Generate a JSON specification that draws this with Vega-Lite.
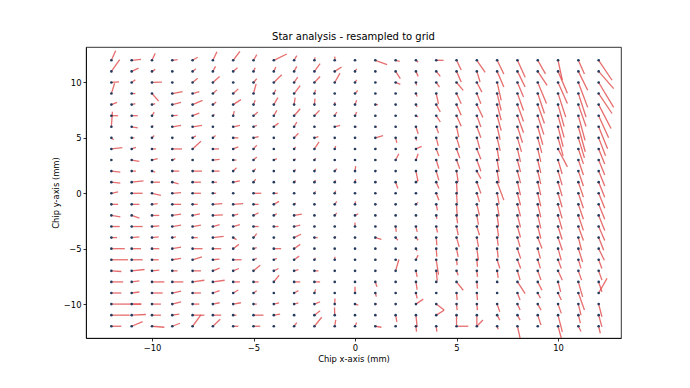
{
"$schema": "https://vega.github.io/schema/vega-lite/v6.json",
"width": 535, "height": 291,
"autosize": {"type": "none"},
"padding": {"left": 86, "top": 47, "right": 69, "bottom": 50},
"background": "white",
"title": {"text": "Star analysis - resampled to grid", "fontSize": 10, "font": "DejaVu Sans", "fontWeight": "normal", "color": "black", "offset": 5, "anchor": "middle"},
"config": {
  "view": {"stroke": "black", "strokeWidth": 0.8},
  "axis": {"grid": false, "domainColor": "black", "domainWidth": 0.8, "tickColor": "black", "tickWidth": 0.8, "tickSize": 3, "labelFont": "DejaVu Sans", "labelFontSize": 8.4, "labelColor": "black", "labelPadding": 2, "titleFont": "DejaVu Sans", "titleFontSize": 8.4, "titleFontWeight": "normal", "titleColor": "black", "titlePadding": 3}
},
"data": {"values": [
{"x":-12,"y":12,"xe":-11.79,"ye":12.87},{"x":-12,"y":11,"xe":-11.59,"ye":12.05},{"x":-12,"y":10,"xe":-11.62,"ye":10.06},{"x":-12,"y":9,"xe":-11.84,"ye":9.93},{"x":-12,"y":8,"xe":-11.72,"ye":8.21},{"x":-12,"y":7,"xe":-11.67,"ye":7},{"x":-12,"y":6,"xe":-11.95,"ye":7.35},{"x":-12,"y":5,"xe":-11.89,"ye":4.82},{"x":-12,"y":4,"xe":-11.46,"ye":4.12},{"x":-12,"y":3,"xe":-11.98,"ye":3},{"x":-12,"y":2,"xe":-11.56,"ye":1.91},{"x":-12,"y":1,"xe":-11.56,"ye":0.91},{"x":-12,"y":0,"xe":-11.67,"ye":0.12},{"x":-12,"y":-1,"xe":-11.67,"ye":-1},{"x":-12,"y":-2,"xe":-11.56,"ye":-2.12},{"x":-12,"y":-3,"xe":-11.59,"ye":-3},{"x":-12,"y":-4,"xe":-11.72,"ye":-4},{"x":-12,"y":-5,"xe":-11.34,"ye":-5},{"x":-12,"y":-6,"xe":-11.18,"ye":-6},{"x":-12,"y":-7,"xe":-11.51,"ye":-7.06},{"x":-12,"y":-8,"xe":-11.42,"ye":-8},{"x":-12,"y":-9,"xe":-11.51,"ye":-9},{"x":-12,"y":-10,"xe":-10.52,"ye":-10},{"x":-12,"y":-11,"xe":-11.1,"ye":-11},{"x":-12,"y":-12,"xe":-11.51,"ye":-12},
{"x":-11,"y":12,"xe":-10.54,"ye":12.09},{"x":-11,"y":11,"xe":-10.66,"ye":11.3},{"x":-11,"y":10,"xe":-10.82,"ye":10.24},{"x":-11,"y":9,"xe":-10.82,"ye":9},{"x":-11,"y":8,"xe":-10.82,"ye":8.09},{"x":-11,"y":7,"xe":-10.7,"ye":7},{"x":-11,"y":6,"xe":-10.7,"ye":5.91},{"x":-11,"y":5,"xe":-10.87,"ye":5},{"x":-11,"y":4,"xe":-10.79,"ye":4.15},{"x":-11,"y":3,"xe":-10.62,"ye":2.88},{"x":-11,"y":2,"xe":-10.79,"ye":2},{"x":-11,"y":1,"xe":-10.42,"ye":1.12},{"x":-11,"y":0,"xe":-10.46,"ye":0},{"x":-11,"y":-1,"xe":-10.62,"ye":-1},{"x":-11,"y":-2,"xe":-10.62,"ye":-2.24},{"x":-11,"y":-3,"xe":-10.46,"ye":-3},{"x":-11,"y":-4,"xe":-10.62,"ye":-3.94},{"x":-11,"y":-5,"xe":-10.54,"ye":-5},{"x":-11,"y":-6,"xe":-10.46,"ye":-6},{"x":-11,"y":-7,"xe":-10.37,"ye":-6.88},{"x":-11,"y":-8,"xe":-10.62,"ye":-7.91},{"x":-11,"y":-9,"xe":-10.62,"ye":-8.91},{"x":-11,"y":-10,"xe":-10.54,"ye":-10},{"x":-11,"y":-11,"xe":-10.3,"ye":-10.94},{"x":-11,"y":-12,"xe":-10.46,"ye":-11.58},
{"x":-10,"y":12,"xe":-9.84,"ye":12.63},{"x":-10,"y":11,"xe":-9.84,"ye":11.18},{"x":-10,"y":10,"xe":-9.51,"ye":10.03},{"x":-10,"y":9,"xe":-9.67,"ye":8.31},{"x":-10,"y":8,"xe":-9.84,"ye":8.09},{"x":-10,"y":7,"xe":-9.89,"ye":7.33},{"x":-10,"y":6,"xe":-9.94,"ye":6.12},{"x":-10,"y":5,"xe":-9.89,"ye":5.21},{"x":-10,"y":4,"xe":-9.8,"ye":4},{"x":-10,"y":3,"xe":-9.72,"ye":3.12},{"x":-10,"y":2,"xe":-9.84,"ye":1.91},{"x":-10,"y":1,"xe":-9.61,"ye":1},{"x":-10,"y":0,"xe":-9.56,"ye":-0.18},{"x":-10,"y":-1,"xe":-9.72,"ye":-0.94},{"x":-10,"y":-2,"xe":-9.64,"ye":-2},{"x":-10,"y":-3,"xe":-9.64,"ye":-2.94},{"x":-10,"y":-4,"xe":-9.67,"ye":-3.94},{"x":-10,"y":-5,"xe":-9.64,"ye":-5},{"x":-10,"y":-6,"xe":-9.67,"ye":-6},{"x":-10,"y":-7,"xe":-9.64,"ye":-6.94},{"x":-10,"y":-8,"xe":-9.39,"ye":-8},{"x":-10,"y":-9,"xe":-9.47,"ye":-9},{"x":-10,"y":-10,"xe":-9.56,"ye":-10},{"x":-10,"y":-11,"xe":-9.56,"ye":-11},{"x":-10,"y":-12,"xe":-9.39,"ye":-12.09},
{"x":-9,"y":12,"xe":-8.74,"ye":12.06},{"x":-9,"y":11,"xe":-8.95,"ye":11},{"x":-9,"y":10,"xe":-8.95,"ye":10},{"x":-9,"y":9,"xe":-8.49,"ye":9.18},{"x":-9,"y":8,"xe":-8.57,"ye":8.21},{"x":-9,"y":7,"xe":-8.74,"ye":7.03},{"x":-9,"y":6,"xe":-8.57,"ye":6.12},{"x":-9,"y":5,"xe":-8.95,"ye":5},{"x":-9,"y":4,"xe":-8.52,"ye":4},{"x":-9,"y":3,"xe":-8.85,"ye":3.12},{"x":-9,"y":2,"xe":-8.66,"ye":2},{"x":-9,"y":1,"xe":-8.69,"ye":0.85},{"x":-9,"y":0,"xe":-8.57,"ye":0.06},{"x":-9,"y":-1,"xe":-8.57,"ye":-1},{"x":-9,"y":-2,"xe":-8.57,"ye":-1.88},{"x":-9,"y":-3,"xe":-8.57,"ye":-2.88},{"x":-9,"y":-4,"xe":-8.82,"ye":-3.94},{"x":-9,"y":-5,"xe":-8.57,"ye":-4.85},{"x":-9,"y":-6,"xe":-8.57,"ye":-5.88},{"x":-9,"y":-7,"xe":-8.74,"ye":-7},{"x":-9,"y":-8,"xe":-8.46,"ye":-8},{"x":-9,"y":-9,"xe":-8.57,"ye":-8.82},{"x":-9,"y":-10,"xe":-8.57,"ye":-9.79},{"x":-9,"y":-11,"xe":-8.66,"ye":-10.91},{"x":-9,"y":-12,"xe":-8.62,"ye":-11.73},
{"x":-8,"y":12,"xe":-7.75,"ye":12.27},{"x":-8,"y":11,"xe":-7.84,"ye":11.24},{"x":-8,"y":10,"xe":-7.75,"ye":10.39},{"x":-8,"y":9,"xe":-7.67,"ye":9.18},{"x":-8,"y":8,"xe":-7.51,"ye":8.39},{"x":-8,"y":7,"xe":-7.67,"ye":7.24},{"x":-8,"y":6,"xe":-7.54,"ye":6.12},{"x":-8,"y":5,"xe":-7.84,"ye":5.18},{"x":-8,"y":4,"xe":-7.59,"ye":4.69},{"x":-8,"y":3,"xe":-7.95,"ye":3},{"x":-8,"y":2,"xe":-7.54,"ye":2},{"x":-8,"y":1,"xe":-7.59,"ye":1},{"x":-8,"y":0,"xe":-7.59,"ye":0},{"x":-8,"y":-1,"xe":-7.75,"ye":-1},{"x":-8,"y":-2,"xe":-7.64,"ye":-1.85},{"x":-8,"y":-3,"xe":-7.59,"ye":-2.88},{"x":-8,"y":-4,"xe":-7.75,"ye":-4},{"x":-8,"y":-5,"xe":-7.51,"ye":-5},{"x":-8,"y":-6,"xe":-7.54,"ye":-5.73},{"x":-8,"y":-7,"xe":-7.59,"ye":-7},{"x":-8,"y":-8,"xe":-7.42,"ye":-7.85},{"x":-8,"y":-9,"xe":-7.59,"ye":-9},{"x":-8,"y":-10,"xe":-7.67,"ye":-10},{"x":-8,"y":-11,"xe":-7.42,"ye":-11},{"x":-8,"y":-12,"xe":-7.59,"ye":-10.98},
{"x":-7,"y":12,"xe":-6.8,"ye":12.78},{"x":-7,"y":11,"xe":-6.87,"ye":11.45},{"x":-7,"y":10,"xe":-6.67,"ye":10.54},{"x":-7,"y":9,"xe":-6.8,"ye":9.33},{"x":-7,"y":8,"xe":-6.84,"ye":8.24},{"x":-7,"y":7,"xe":-6.92,"ye":7.12},{"x":-7,"y":6,"xe":-6.95,"ye":6},{"x":-7,"y":5,"xe":-6.87,"ye":5.21},{"x":-7,"y":4,"xe":-6.7,"ye":4},{"x":-7,"y":3,"xe":-6.67,"ye":3.06},{"x":-7,"y":2,"xe":-6.67,"ye":2},{"x":-7,"y":1,"xe":-6.8,"ye":1},{"x":-7,"y":0,"xe":-6.84,"ye":0},{"x":-7,"y":-1,"xe":-6.54,"ye":-0.94},{"x":-7,"y":-2,"xe":-6.51,"ye":-1.94},{"x":-7,"y":-3,"xe":-6.67,"ye":-2.82},{"x":-7,"y":-4,"xe":-6.47,"ye":-3.88},{"x":-7,"y":-5,"xe":-6.59,"ye":-5},{"x":-7,"y":-6,"xe":-6.67,"ye":-5.94},{"x":-7,"y":-7,"xe":-6.67,"ye":-6.76},{"x":-7,"y":-8,"xe":-6.42,"ye":-7.85},{"x":-7,"y":-9,"xe":-6.67,"ye":-8.79},{"x":-7,"y":-10,"xe":-6.67,"ye":-9.88},{"x":-7,"y":-11,"xe":-6.59,"ye":-11},{"x":-7,"y":-12,"xe":-6.64,"ye":-11.37},
{"x":-6,"y":12,"xe":-5.67,"ye":12.81},{"x":-6,"y":11,"xe":-5.79,"ye":11.33},{"x":-6,"y":10,"xe":-5.95,"ye":10},{"x":-6,"y":9,"xe":-5.75,"ye":9.42},{"x":-6,"y":8,"xe":-5.62,"ye":8.45},{"x":-6,"y":7,"xe":-5.95,"ye":7.42},{"x":-6,"y":6,"xe":-5.67,"ye":6.12},{"x":-6,"y":5,"xe":-5.75,"ye":5},{"x":-6,"y":4,"xe":-5.75,"ye":4.18},{"x":-6,"y":3,"xe":-5.84,"ye":3},{"x":-6,"y":2,"xe":-5.84,"ye":2.3},{"x":-6,"y":1,"xe":-5.67,"ye":1.12},{"x":-6,"y":0,"xe":-5.95,"ye":0},{"x":-6,"y":-1,"xe":-5.51,"ye":-0.94},{"x":-6,"y":-2,"xe":-5.75,"ye":-1.88},{"x":-6,"y":-3,"xe":-5.67,"ye":-2.82},{"x":-6,"y":-4,"xe":-5.84,"ye":-4.18},{"x":-6,"y":-5,"xe":-5.72,"ye":-4.61},{"x":-6,"y":-6,"xe":-5.59,"ye":-6},{"x":-6,"y":-7,"xe":-5.72,"ye":-6.79},{"x":-6,"y":-8,"xe":-5.67,"ye":-8},{"x":-6,"y":-9,"xe":-5.75,"ye":-8.73},{"x":-6,"y":-10,"xe":-5.62,"ye":-9.88},{"x":-6,"y":-11,"xe":-5.84,"ye":-11},{"x":-6,"y":-12,"xe":-5.75,"ye":-12},
{"x":-5,"y":12,"xe":-4.84,"ye":12.51},{"x":-5,"y":11,"xe":-4.92,"ye":11.33},{"x":-5,"y":10,"xe":-4.84,"ye":10.33},{"x":-5,"y":9,"xe":-4.87,"ye":9.87},{"x":-5,"y":8,"xe":-4.92,"ye":8.39},{"x":-5,"y":7,"xe":-4.79,"ye":7.33},{"x":-5,"y":6,"xe":-4.84,"ye":6.12},{"x":-5,"y":5,"xe":-4.75,"ye":5.12},{"x":-5,"y":4,"xe":-4.84,"ye":4.33},{"x":-5,"y":3,"xe":-4.84,"ye":3.27},{"x":-5,"y":2,"xe":-4.89,"ye":2.21},{"x":-5,"y":1,"xe":-4.89,"ye":1.27},{"x":-5,"y":0,"xe":-4.62,"ye":0},{"x":-5,"y":-1,"xe":-4.75,"ye":-1},{"x":-5,"y":-2,"xe":-4.75,"ye":-1.76},{"x":-5,"y":-3,"xe":-4.75,"ye":-3},{"x":-5,"y":-4,"xe":-4.84,"ye":-3.64},{"x":-5,"y":-5,"xe":-4.84,"ye":-4.91},{"x":-5,"y":-6,"xe":-4.84,"ye":-5.88},{"x":-5,"y":-7,"xe":-4.67,"ye":-6.49},{"x":-5,"y":-8,"xe":-4.75,"ye":-8},{"x":-5,"y":-9,"xe":-4.84,"ye":-8.79},{"x":-5,"y":-10,"xe":-4.84,"ye":-10},{"x":-5,"y":-11,"xe":-4.51,"ye":-11},{"x":-5,"y":-12,"xe":-4.67,"ye":-12},
{"x":-4,"y":12,"xe":-3.36,"ye":12.57},{"x":-4,"y":11,"xe":-3.9,"ye":11.39},{"x":-4,"y":10,"xe":-3.61,"ye":10.69},{"x":-4,"y":9,"xe":-3.9,"ye":9.33},{"x":-4,"y":8,"xe":-3.8,"ye":8.63},{"x":-4,"y":7,"xe":-3.85,"ye":7.48},{"x":-4,"y":6,"xe":-3.77,"ye":6.33},{"x":-4,"y":5,"xe":-3.95,"ye":5},{"x":-4,"y":4,"xe":-3.95,"ye":4},{"x":-4,"y":3,"xe":-3.85,"ye":3.12},{"x":-4,"y":2,"xe":-3.95,"ye":2},{"x":-4,"y":1,"xe":-3.95,"ye":1},{"x":-4,"y":0,"xe":-3.8,"ye":0},{"x":-4,"y":-1,"xe":-3.74,"ye":-0.73},{"x":-4,"y":-2,"xe":-3.85,"ye":-1.85},{"x":-4,"y":-3,"xe":-3.77,"ye":-3},{"x":-4,"y":-4,"xe":-3.95,"ye":-4},{"x":-4,"y":-5,"xe":-3.64,"ye":-5},{"x":-4,"y":-6,"xe":-3.85,"ye":-5.88},{"x":-4,"y":-7,"xe":-3.77,"ye":-6.79},{"x":-4,"y":-8,"xe":-3.74,"ye":-7.4},{"x":-4,"y":-9,"xe":-3.95,"ye":-9},{"x":-4,"y":-10,"xe":-3.74,"ye":-9.88},{"x":-4,"y":-11,"xe":-3.69,"ye":-10.91},{"x":-4,"y":-12,"xe":-3.95,"ye":-12},
{"x":-3,"y":12,"xe":-2.87,"ye":12.42},{"x":-3,"y":11,"xe":-2.87,"ye":11.45},{"x":-3,"y":10,"xe":-2.82,"ye":10.48},{"x":-3,"y":9,"xe":-2.7,"ye":9.72},{"x":-3,"y":8,"xe":-2.95,"ye":8.63},{"x":-3,"y":7,"xe":-2.7,"ye":7.63},{"x":-3,"y":6,"xe":-2.87,"ye":6.42},{"x":-3,"y":5,"xe":-2.79,"ye":5.42},{"x":-3,"y":4,"xe":-2.92,"ye":4.18},{"x":-3,"y":3,"xe":-2.92,"ye":3.12},{"x":-3,"y":2,"xe":-2.92,"ye":2.15},{"x":-3,"y":1,"xe":-2.92,"ye":1.15},{"x":-3,"y":0,"xe":-2.95,"ye":0},{"x":-3,"y":-1,"xe":-2.92,"ye":-0.88},{"x":-3,"y":-2,"xe":-2.62,"ye":-1.88},{"x":-3,"y":-3,"xe":-2.7,"ye":-2.88},{"x":-3,"y":-4,"xe":-2.66,"ye":-3.7},{"x":-3,"y":-5,"xe":-2.7,"ye":-4.61},{"x":-3,"y":-6,"xe":-2.75,"ye":-5.67},{"x":-3,"y":-7,"xe":-2.79,"ye":-6.88},{"x":-3,"y":-8,"xe":-2.7,"ye":-8},{"x":-3,"y":-9,"xe":-2.79,"ye":-8.79},{"x":-3,"y":-10,"xe":-2.79,"ye":-9.88},{"x":-3,"y":-11,"xe":-2.95,"ye":-11},{"x":-3,"y":-12,"xe":-2.87,"ye":-11.67},
{"x":-2,"y":12,"xe":-1.97,"ye":12.27},{"x":-2,"y":11,"xe":-1.72,"ye":11.69},{"x":-2,"y":10,"xe":-1.72,"ye":10.54},{"x":-2,"y":9,"xe":-1.94,"ye":9.33},{"x":-2,"y":8,"xe":-1.97,"ye":8.54},{"x":-2,"y":7,"xe":-1.75,"ye":7.48},{"x":-2,"y":6,"xe":-1.95,"ye":6},{"x":-2,"y":5,"xe":-1.8,"ye":5.12},{"x":-2,"y":4,"xe":-1.77,"ye":4.63},{"x":-2,"y":3,"xe":-1.94,"ye":3.18},{"x":-2,"y":2,"xe":-1.94,"ye":2.21},{"x":-2,"y":1,"xe":-1.94,"ye":1.18},{"x":-2,"y":0,"xe":-1.94,"ye":0.18},{"x":-2,"y":-1,"xe":-1.95,"ye":-1},{"x":-2,"y":-2,"xe":-1.95,"ye":-2},{"x":-2,"y":-3,"xe":-1.95,"ye":-3},{"x":-2,"y":-4,"xe":-1.84,"ye":-4},{"x":-2,"y":-5,"xe":-1.95,"ye":-5},{"x":-2,"y":-6,"xe":-1.95,"ye":-5.82},{"x":-2,"y":-7,"xe":-1.8,"ye":-7},{"x":-2,"y":-8,"xe":-1.72,"ye":-8},{"x":-2,"y":-9,"xe":-1.94,"ye":-8.67},{"x":-2,"y":-10,"xe":-1.72,"ye":-9.79},{"x":-2,"y":-11,"xe":-1.72,"ye":-10.61},{"x":-2,"y":-12,"xe":-1.64,"ye":-11.19},
{"x":-1,"y":12,"xe":-0.99,"ye":12.33},{"x":-1,"y":11,"xe":-0.66,"ye":11.39},{"x":-1,"y":10,"xe":-0.74,"ye":10.84},{"x":-1,"y":9,"xe":-0.95,"ye":9},{"x":-1,"y":8,"xe":-0.99,"ye":8.24},{"x":-1,"y":7,"xe":-0.9,"ye":7.33},{"x":-1,"y":6,"xe":-0.74,"ye":6.12},{"x":-1,"y":5,"xe":-0.95,"ye":5},{"x":-1,"y":4,"xe":-0.95,"ye":4.27},{"x":-1,"y":3,"xe":-0.95,"ye":3},{"x":-1,"y":2,"xe":-0.9,"ye":2.21},{"x":-1,"y":1,"xe":-0.95,"ye":1.18},{"x":-1,"y":0,"xe":-0.95,"ye":0.24},{"x":-1,"y":-1,"xe":-0.9,"ye":-0.73},{"x":-1,"y":-2,"xe":-0.9,"ye":-1.76},{"x":-1,"y":-3,"xe":-0.95,"ye":-3},{"x":-1,"y":-4,"xe":-0.95,"ye":-3.88},{"x":-1,"y":-5,"xe":-0.95,"ye":-5},{"x":-1,"y":-6,"xe":-0.99,"ye":-5.73},{"x":-1,"y":-7,"xe":-0.95,"ye":-7},{"x":-1,"y":-8,"xe":-0.95,"ye":-8},{"x":-1,"y":-9,"xe":-0.95,"ye":-9},{"x":-1,"y":-10,"xe":-0.99,"ye":-9.49},{"x":-1,"y":-11,"xe":-1.01,"ye":-10.31},{"x":-1,"y":-12,"xe":-0.95,"ye":-11.43},
{"x":0,"y":12,"xe":0.05,"ye":12},{"x":0,"y":11,"xe":0.08,"ye":11.24},{"x":0,"y":10,"xe":0.08,"ye":10.24},{"x":0,"y":9,"xe":0.13,"ye":9.27},{"x":0,"y":8,"xe":0.08,"ye":8.39},{"x":0,"y":7,"xe":0.08,"ye":7.33},{"x":0,"y":6,"xe":0.08,"ye":6},{"x":0,"y":5,"xe":0.05,"ye":5},{"x":0,"y":4,"xe":0.05,"ye":4},{"x":0,"y":3,"xe":0.05,"ye":3},{"x":0,"y":2,"xe":0.03,"ye":2.45},{"x":0,"y":1,"xe":0.03,"ye":1.27},{"x":0,"y":0,"xe":0.05,"ye":0},{"x":0,"y":-1,"xe":0.03,"ye":-0.73},{"x":0,"y":-2,"xe":0.16,"ye":-1.85},{"x":0,"y":-3,"xe":0,"ye":-2.64},{"x":0,"y":-4,"xe":0.05,"ye":-4},{"x":0,"y":-5,"xe":0.05,"ye":-5},{"x":0,"y":-6,"xe":0.05,"ye":-6},{"x":0,"y":-7,"xe":0.05,"ye":-7},{"x":0,"y":-8,"xe":0.05,"ye":-8},{"x":0,"y":-9,"xe":0,"ye":-8.43},{"x":0,"y":-10,"xe":0.16,"ye":-10.09},{"x":0,"y":-11,"xe":0.05,"ye":-11},{"x":0,"y":-12,"xe":0.08,"ye":-11.67},
{"x":1,"y":12,"xe":1.58,"ye":11.61},{"x":1,"y":11,"xe":1.05,"ye":11},{"x":1,"y":10,"xe":1.05,"ye":10},{"x":1,"y":9,"xe":1.05,"ye":9},{"x":1,"y":8,"xe":1.13,"ye":8},{"x":1,"y":7,"xe":1.05,"ye":7},{"x":1,"y":6,"xe":1.08,"ye":6},{"x":1,"y":5,"xe":1.38,"ye":5.21},{"x":1,"y":4,"xe":1.05,"ye":4.09},{"x":1,"y":3,"xe":1.05,"ye":3},{"x":1,"y":2,"xe":1.05,"ye":2.09},{"x":1,"y":1,"xe":1.05,"ye":1.09},{"x":1,"y":0,"xe":1.05,"ye":0},{"x":1,"y":-1,"xe":1.05,"ye":-1},{"x":1,"y":-2,"xe":1.05,"ye":-2},{"x":1,"y":-3,"xe":1.05,"ye":-3},{"x":1,"y":-4,"xe":1.3,"ye":-4.15},{"x":1,"y":-5,"xe":1.05,"ye":-5},{"x":1,"y":-6,"xe":1.05,"ye":-6},{"x":1,"y":-7,"xe":1.05,"ye":-7},{"x":1,"y":-8,"xe":1.08,"ye":-8.45},{"x":1,"y":-9,"xe":1.05,"ye":-9.33},{"x":1,"y":-10,"xe":1.08,"ye":-10},{"x":1,"y":-11,"xe":1.05,"ye":-11},{"x":1,"y":-12,"xe":1.3,"ye":-12.09},
{"x":2,"y":12,"xe":2.2,"ye":11.91},{"x":2,"y":11,"xe":2.23,"ye":10.34},{"x":2,"y":10,"xe":2.23,"ye":9.82},{"x":2,"y":9,"xe":2.05,"ye":9},{"x":2,"y":8,"xe":2.05,"ye":8},{"x":2,"y":7,"xe":2.05,"ye":7},{"x":2,"y":6,"xe":2.05,"ye":6},{"x":2,"y":5,"xe":2.06,"ye":4.55},{"x":2,"y":4,"xe":2.05,"ye":4},{"x":2,"y":3,"xe":2.16,"ye":3.57},{"x":2,"y":2,"xe":2.05,"ye":2},{"x":2,"y":1,"xe":2.11,"ye":0.43},{"x":2,"y":0,"xe":2.05,"ye":0},{"x":2,"y":-1,"xe":2.05,"ye":-1},{"x":2,"y":-2,"xe":2.05,"ye":-2},{"x":2,"y":-3,"xe":2.03,"ye":-3.48},{"x":2,"y":-4,"xe":2.11,"ye":-4.24},{"x":2,"y":-5,"xe":2.05,"ye":-5},{"x":2,"y":-6,"xe":2.05,"ye":-6},{"x":2,"y":-7,"xe":2.16,"ye":-5.98},{"x":2,"y":-8,"xe":2.05,"ye":-8},{"x":2,"y":-9,"xe":2.05,"ye":-9},{"x":2,"y":-10,"xe":2.05,"ye":-10},{"x":2,"y":-11,"xe":2.06,"ye":-11.6},{"x":2,"y":-12,"xe":2.05,"ye":-12},
{"x":3,"y":12,"xe":3.11,"ye":11.82},{"x":3,"y":11,"xe":3.11,"ye":10.55},{"x":3,"y":10,"xe":3.03,"ye":9.73},{"x":3,"y":9,"xe":3.06,"ye":8.73},{"x":3,"y":8,"xe":3.06,"ye":7.79},{"x":3,"y":7,"xe":3.11,"ye":6.88},{"x":3,"y":6,"xe":3.11,"ye":5.37},{"x":3,"y":5,"xe":3.03,"ye":4.76},{"x":3,"y":4,"xe":3.28,"ye":4.24},{"x":3,"y":3,"xe":3.11,"ye":3.57},{"x":3,"y":2,"xe":3.1,"ye":1.1},{"x":3,"y":1,"xe":3.1,"ye":1.18},{"x":3,"y":0,"xe":3.05,"ye":0},{"x":3,"y":-1,"xe":3.1,"ye":-0.82},{"x":3,"y":-2,"xe":3.05,"ye":-2.05},{"x":3,"y":-3,"xe":3.06,"ye":-3.48},{"x":3,"y":-4,"xe":3.11,"ye":-4.24},{"x":3,"y":-5,"xe":3.06,"ye":-5.21},{"x":3,"y":-6,"xe":3.11,"ye":-5.58},{"x":3,"y":-7,"xe":3.06,"ye":-7.54},{"x":3,"y":-8,"xe":3.06,"ye":-8.69},{"x":3,"y":-9,"xe":3.06,"ye":-9.48},{"x":3,"y":-10,"xe":3.36,"ye":-9.55},{"x":3,"y":-11,"xe":3.06,"ye":-12.05},{"x":3,"y":-12,"xe":3.03,"ye":-12.48},
{"x":4,"y":12,"xe":4.36,"ye":12},{"x":4,"y":11,"xe":4.2,"ye":10.55},{"x":4,"y":10,"xe":4.16,"ye":9.58},{"x":4,"y":9,"xe":4.11,"ye":8.07},{"x":4,"y":8,"xe":4.2,"ye":7.34},{"x":4,"y":7,"xe":4.2,"ye":6.43},{"x":4,"y":6,"xe":4.11,"ye":5.43},{"x":4,"y":5,"xe":4.1,"ye":4.28},{"x":4,"y":4,"xe":4.13,"ye":3.37},{"x":4,"y":3,"xe":4.13,"ye":2.22},{"x":4,"y":2,"xe":4.13,"ye":1.16},{"x":4,"y":1,"xe":4.13,"ye":0.43},{"x":4,"y":0,"xe":4.13,"ye":-0.63},{"x":4,"y":-1,"xe":4.06,"ye":-1.54},{"x":4,"y":-2,"xe":4.03,"ye":-2.3},{"x":4,"y":-3,"xe":4.06,"ye":-3.54},{"x":4,"y":-4,"xe":4.03,"ye":-4.69},{"x":4,"y":-5,"xe":4.03,"ye":-5.72},{"x":4,"y":-6,"xe":4.11,"ye":-7.35},{"x":4,"y":-7,"xe":4.05,"ye":-7.9},{"x":4,"y":-8,"xe":4.03,"ye":-8.09},{"x":4,"y":-9,"xe":4.03,"ye":-9.05},{"x":4,"y":-10,"xe":4.39,"ye":-10.54},{"x":4,"y":-11,"xe":4.39,"ye":-10.55},{"x":4,"y":-12,"xe":4.03,"ye":-12.48},
{"x":5,"y":12,"xe":5.23,"ye":11.13},{"x":5,"y":11,"xe":5.23,"ye":10.04},{"x":5,"y":10,"xe":5.33,"ye":9.28},{"x":5,"y":9,"xe":5.23,"ye":8.07},{"x":5,"y":8,"xe":5.23,"ye":7.04},{"x":5,"y":7,"xe":5.23,"ye":6.04},{"x":5,"y":6,"xe":5.11,"ye":5.07},{"x":5,"y":5,"xe":5.15,"ye":4.1},{"x":5,"y":4,"xe":5.16,"ye":3.19},{"x":5,"y":3,"xe":5.16,"ye":2.22},{"x":5,"y":2,"xe":5.08,"ye":1.01},{"x":5,"y":1,"xe":5.03,"ye":-0.02},{"x":5,"y":0,"xe":5.03,"ye":-0.93},{"x":5,"y":-1,"xe":5.03,"ye":-1.99},{"x":5,"y":-2,"xe":5.05,"ye":-2.72},{"x":5,"y":-3,"xe":5.08,"ye":-3.78},{"x":5,"y":-4,"xe":5.13,"ye":-4.84},{"x":5,"y":-5,"xe":5.08,"ye":-5.75},{"x":5,"y":-6,"xe":5.03,"ye":-6.48},{"x":5,"y":-7,"xe":5.08,"ye":-7.39},{"x":5,"y":-8,"xe":5.33,"ye":-8.75},{"x":5,"y":-9,"xe":5.03,"ye":-9.63},{"x":5,"y":-10,"xe":5.03,"ye":-10.54},{"x":5,"y":-11,"xe":5,"ye":-11.9},{"x":5,"y":-12,"xe":5.58,"ye":-12},
{"x":6,"y":12,"xe":6.41,"ye":10.92},{"x":6,"y":11,"xe":6.16,"ye":10.04},{"x":6,"y":10,"xe":6.25,"ye":9.13},{"x":6,"y":9,"xe":6.2,"ye":8.07},{"x":6,"y":8,"xe":6.3,"ye":6.83},{"x":6,"y":7,"xe":6.2,"ye":5.98},{"x":6,"y":6,"xe":6.2,"ye":5.01},{"x":6,"y":5,"xe":6.15,"ye":4.01},{"x":6,"y":4,"xe":6.2,"ye":3.07},{"x":6,"y":3,"xe":6.2,"ye":1.98},{"x":6,"y":2,"xe":6.2,"ye":1.31},{"x":6,"y":1,"xe":6.2,"ye":-0.02},{"x":6,"y":0,"xe":6.13,"ye":-0.78},{"x":6,"y":-1,"xe":6.13,"ye":-1.99},{"x":6,"y":-2,"xe":6.08,"ye":-2.84},{"x":6,"y":-3,"xe":6.13,"ye":-3.78},{"x":6,"y":-4,"xe":6.08,"ye":-4.84},{"x":6,"y":-5,"xe":6.08,"ye":-6.05},{"x":6,"y":-6,"xe":6.03,"ye":-6.63},{"x":6,"y":-7,"xe":6.03,"ye":-7.54},{"x":6,"y":-8,"xe":6.03,"ye":-8.6},{"x":6,"y":-9,"xe":6.03,"ye":-9.63},{"x":6,"y":-10,"xe":6.03,"ye":-10.54},{"x":6,"y":-11,"xe":6,"ye":-11.9},{"x":6,"y":-12,"xe":6.3,"ye":-11.43},
{"x":7,"y":12,"xe":7.33,"ye":10.77},{"x":7,"y":11,"xe":7.33,"ye":9.59},{"x":7,"y":10,"xe":7.2,"ye":8.38},{"x":7,"y":9,"xe":7.2,"ye":7.47},{"x":7,"y":8,"xe":7.2,"ye":6.59},{"x":7,"y":7,"xe":7.2,"ye":5.65},{"x":7,"y":6,"xe":7.15,"ye":4.83},{"x":7,"y":5,"xe":7.15,"ye":3.83},{"x":7,"y":4,"xe":7.1,"ye":2.92},{"x":7,"y":3,"xe":7.1,"ye":1.92},{"x":7,"y":2,"xe":7.1,"ye":0.92},{"x":7,"y":1,"xe":7.33,"ye":-0.62},{"x":7,"y":0,"xe":7.1,"ye":-0.99},{"x":7,"y":-1,"xe":7.1,"ye":-2.08},{"x":7,"y":-2,"xe":7.07,"ye":-2.99},{"x":7,"y":-3,"xe":7.07,"ye":-3.9},{"x":7,"y":-4,"xe":7.05,"ye":-4.72},{"x":7,"y":-5,"xe":7.05,"ye":-5.81},{"x":7,"y":-6,"xe":7.13,"ye":-6.78},{"x":7,"y":-7,"xe":7.05,"ye":-7.63},{"x":7,"y":-8,"xe":7.05,"ye":-8.09},{"x":7,"y":-9,"xe":7.03,"ye":-9},{"x":7,"y":-10,"xe":7.13,"ye":-10.69},{"x":7,"y":-11,"xe":7.13,"ye":-11.45},{"x":7,"y":-12,"xe":7.05,"ye":-12.27},
{"x":8,"y":12,"xe":8.38,"ye":10.47},{"x":8,"y":11,"xe":8.38,"ye":9.59},{"x":8,"y":10,"xe":8.3,"ye":8.68},{"x":8,"y":9,"xe":8.3,"ye":7.47},{"x":8,"y":8,"xe":8.3,"ye":6.47},{"x":8,"y":7,"xe":8.3,"ye":5.47},{"x":8,"y":6,"xe":8.25,"ye":4.56},{"x":8,"y":5,"xe":8.2,"ye":3.74},{"x":8,"y":4,"xe":8.15,"ye":2.83},{"x":8,"y":3,"xe":8.15,"ye":1.92},{"x":8,"y":2,"xe":8.15,"ye":0.92},{"x":8,"y":1,"xe":8.15,"ye":-0.17},{"x":8,"y":0,"xe":8.15,"ye":-1.08},{"x":8,"y":-1,"xe":8.15,"ye":-2.08},{"x":8,"y":-2,"xe":8.15,"ye":-3.08},{"x":8,"y":-3,"xe":8.15,"ye":-3.99},{"x":8,"y":-4,"xe":8.13,"ye":-4.84},{"x":8,"y":-5,"xe":8.16,"ye":-5.9},{"x":8,"y":-6,"xe":8.16,"ye":-6.78},{"x":8,"y":-7,"xe":8.13,"ye":-7.84},{"x":8,"y":-8,"xe":8.38,"ye":-9.05},{"x":8,"y":-9,"xe":8.13,"ye":-9.63},{"x":8,"y":-10,"xe":8.13,"ye":-10.54},{"x":8,"y":-11,"xe":8.13,"ye":-11.45},{"x":8,"y":-12,"xe":8.13,"ye":-13.08},
{"x":9,"y":12,"xe":9.38,"ye":10.77},{"x":9,"y":11,"xe":9.46,"ye":9.74},{"x":9,"y":10,"xe":9.43,"ye":8.11},{"x":9,"y":9,"xe":9.33,"ye":7.2},{"x":9,"y":8,"xe":9.33,"ye":6.29},{"x":9,"y":7,"xe":9.3,"ye":5.29},{"x":9,"y":6,"xe":9.25,"ye":4.38},{"x":9,"y":5,"xe":9.2,"ye":3.65},{"x":9,"y":4,"xe":9.15,"ye":2.83},{"x":9,"y":3,"xe":9.15,"ye":1.83},{"x":9,"y":2,"xe":9.15,"ye":0.83},{"x":9,"y":1,"xe":9.15,"ye":-0.17},{"x":9,"y":0,"xe":9.15,"ye":-1.17},{"x":9,"y":-1,"xe":9.15,"ye":-2.17},{"x":9,"y":-2,"xe":9.15,"ye":-3.17},{"x":9,"y":-3,"xe":9.15,"ye":-4.08},{"x":9,"y":-4,"xe":9.21,"ye":-4.99},{"x":9,"y":-5,"xe":9.13,"ye":-5.9},{"x":9,"y":-6,"xe":9.13,"ye":-6.78},{"x":9,"y":-7,"xe":9.16,"ye":-7.84},{"x":9,"y":-8,"xe":9.21,"ye":-8.75},{"x":9,"y":-9,"xe":9.13,"ye":-9.48},{"x":9,"y":-10,"xe":9.16,"ye":-10.54},{"x":9,"y":-11,"xe":9.16,"ye":-11.9},{"x":9,"y":-12,"xe":9.03,"ye":-12},
{"x":10,"y":12,"xe":10.21,"ye":10.2},{"x":10,"y":11,"xe":10.46,"ye":9.02},{"x":10,"y":10,"xe":10.46,"ye":8.11},{"x":10,"y":9,"xe":10.38,"ye":6.87},{"x":10,"y":8,"xe":10.3,"ye":6.02},{"x":10,"y":7,"xe":10.3,"ye":5.02},{"x":10,"y":6,"xe":10.25,"ye":4.2},{"x":10,"y":5,"xe":10.25,"ye":3.38},{"x":10,"y":4,"xe":10.46,"ye":2.38},{"x":10,"y":3,"xe":10.2,"ye":1.74},{"x":10,"y":2,"xe":10.2,"ye":0.74},{"x":10,"y":1,"xe":10.2,"ye":-0.26},{"x":10,"y":0,"xe":10.2,"ye":-1.26},{"x":10,"y":-1,"xe":10.2,"ye":-2.26},{"x":10,"y":-2,"xe":10.2,"ye":-3.26},{"x":10,"y":-3,"xe":10.2,"ye":-4.17},{"x":10,"y":-4,"xe":10.21,"ye":-5.14},{"x":10,"y":-5,"xe":10.16,"ye":-6.05},{"x":10,"y":-6,"xe":10.16,"ye":-6.78},{"x":10,"y":-7,"xe":10.21,"ye":-7.84},{"x":10,"y":-8,"xe":10.13,"ye":-8.9},{"x":10,"y":-9,"xe":10.16,"ye":-9.63},{"x":10,"y":-10,"xe":10.16,"ye":-10.84},{"x":10,"y":-11,"xe":10.21,"ye":-12.5},{"x":10,"y":-12,"xe":10.16,"ye":-13.08},
{"x":11,"y":12,"xe":11.3,"ye":10.77},{"x":11,"y":11,"xe":11.46,"ye":9.29},{"x":11,"y":10,"xe":11.46,"ye":7.75},{"x":11,"y":9,"xe":11.38,"ye":6.87},{"x":11,"y":8,"xe":11.38,"ye":6.02},{"x":11,"y":7,"xe":11.33,"ye":4.77},{"x":11,"y":6,"xe":11.34,"ye":3.75},{"x":11,"y":5,"xe":11.3,"ye":3.2},{"x":11,"y":4,"xe":11.25,"ye":2.65},{"x":11,"y":3,"xe":11.25,"ye":1.65},{"x":11,"y":2,"xe":11.25,"ye":0.65},{"x":11,"y":1,"xe":11.25,"ye":-0.35},{"x":11,"y":0,"xe":11.25,"ye":-1.35},{"x":11,"y":-1,"xe":11.25,"ye":-2.35},{"x":11,"y":-2,"xe":11.25,"ye":-3.35},{"x":11,"y":-3,"xe":11.25,"ye":-4.26},{"x":11,"y":-4,"xe":11.16,"ye":-5.14},{"x":11,"y":-5,"xe":11.21,"ye":-6.2},{"x":11,"y":-6,"xe":11.13,"ye":-6.78},{"x":11,"y":-7,"xe":11.16,"ye":-7.84},{"x":11,"y":-8,"xe":11.21,"ye":-9.35},{"x":11,"y":-9,"xe":11.3,"ye":-10.53},{"x":11,"y":-10,"xe":11.13,"ye":-10.99},{"x":11,"y":-11,"xe":11.1,"ye":-11.72},{"x":11,"y":-12,"xe":11.13,"ye":-12.48},
{"x":12,"y":12,"xe":12.66,"ye":10.2},{"x":12,"y":11,"xe":12.74,"ye":9.44},{"x":12,"y":10,"xe":12.74,"ye":7.75},{"x":12,"y":9,"xe":12.66,"ye":7.2},{"x":12,"y":8,"xe":12.61,"ye":5.84},{"x":12,"y":7,"xe":12.49,"ye":5.02},{"x":12,"y":6,"xe":12.44,"ye":4.02},{"x":12,"y":5,"xe":12.34,"ye":3.38},{"x":12,"y":4,"xe":12.3,"ye":2.65},{"x":12,"y":3,"xe":12.3,"ye":1.65},{"x":12,"y":2,"xe":12.3,"ye":0.65},{"x":12,"y":1,"xe":12.3,"ye":-0.35},{"x":12,"y":0,"xe":12.3,"ye":-1.35},{"x":12,"y":-1,"xe":12.3,"ye":-2.35},{"x":12,"y":-2,"xe":12.3,"ye":-3.35},{"x":12,"y":-3,"xe":12.3,"ye":-4.26},{"x":12,"y":-4,"xe":12.25,"ye":-5.14},{"x":12,"y":-5,"xe":12.28,"ye":-6.05},{"x":12,"y":-6,"xe":12.16,"ye":-6.78},{"x":12,"y":-7,"xe":12.16,"ye":-7.84},{"x":12,"y":-8,"xe":12.16,"ye":-8.9},{"x":12,"y":-9,"xe":12.41,"ye":-7.68},{"x":12,"y":-10,"xe":12.16,"ye":-11.14},{"x":12,"y":-11,"xe":12.16,"ye":-12.05},{"x":12,"y":-12,"xe":12.08,"ye":-12.63}
]},
"layer": [
  {"mark": {"type": "rule", "color": "#e04848", "strokeWidth": 1.3, "opacity": 0.8, "clip": true},
   "encoding": {
     "x": {"field": "x", "type": "quantitative", "scale": {"domain": [-13.25, 13.1], "nice": false, "zero": false}, "axis": {"values": [-10, -5, 0, 5, 10], "title": "Chip x-axis (mm)"}},
     "y": {"field": "y", "type": "quantitative", "scale": {"domain": [-13.06, 13.2], "nice": false, "zero": false}, "axis": {"values": [-10, -5, 0, 5, 10], "title": "Chip y-axis (mm)"}},
     "x2": {"field": "xe"},
     "y2": {"field": "ye"}
   }},
  {"mark": {"type": "point", "filled": true, "color": "#243b5e", "size": 7, "opacity": 1},
   "encoding": {
     "x": {"field": "x", "type": "quantitative"},
     "y": {"field": "y", "type": "quantitative"}
   }}
]
}
